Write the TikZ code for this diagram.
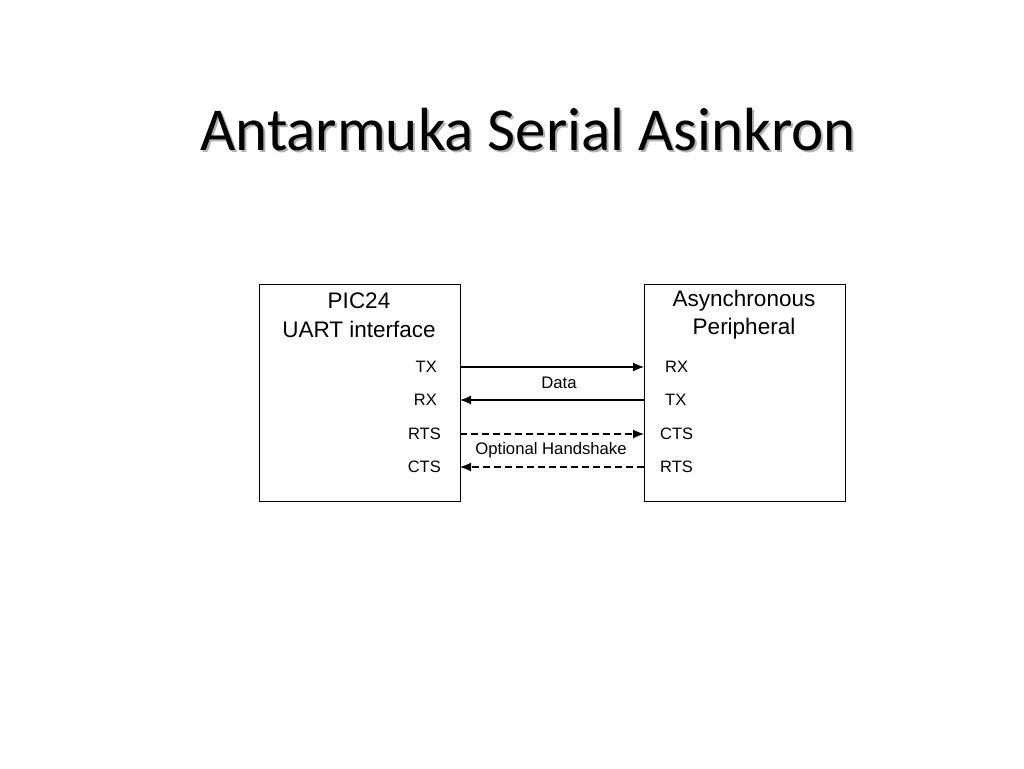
\documentclass[tikz,border=0pt]{standalone}
\usepackage{fontspec}
\setmainfont{Liberation Sans}
\newfontfamily\titlefont{Carlito}
\usetikzlibrary{arrows.meta}
\begin{document}
\begin{tikzpicture}[x=1pt,y=-1pt,
  box/.style={draw,line width=1pt},
  pin/.style={font=\fontsize{16.5}{18}\selectfont,inner sep=0pt},
  big/.style={font=\fontsize{22.5}{24}\selectfont,inner sep=0pt},
  sig/.style={line width=1.2pt,-{Latex[length=11pt,width=9pt]}},
  lbl/.style={font=\fontsize{16.7}{18}\selectfont,inner sep=0pt}]
\useasboundingbox (0,0) rectangle (1024,768);
\node[text=gray!60,font=\titlefont\fontsize{61}{66}\selectfont] at (530,132) {Antarmuka Serial Asinkron};
\node (title) [font=\titlefont\fontsize{61}{66}\selectfont] at (528,130) {Antarmuka Serial Asinkron};
\draw[box] (259,284) rectangle (460,501);
\draw[box] (644,284) rectangle (845,501);
\node[big] at (359,301) {PIC24};
\node[big] at (359,329) {UART interface};
\node[big] at (744,301) {Asynchronous};
\node[big] at (744,329) {Peripheral};
\node[pin,anchor=east] (ltx) at (437,367) {TX};
\node[pin,anchor=east] (lrx) at (437,400) {RX};
\node[pin,anchor=east] (lrts) at (441,434) {RTS};
\node[pin,anchor=east] (lcts) at (441,467) {CTS};
\node[pin,anchor=west] (rrx) at (665,367) {RX};
\node[pin,anchor=west] (rtx) at (665,400) {TX};
\node[pin,anchor=west] (rcts) at (660,434) {CTS};
\node[pin,anchor=west] (rrts) at (660,467) {RTS};
\coordinate (a1) at (460,367); \coordinate (b1) at (644,367);
\coordinate (a2) at (460,400); \coordinate (b2) at (644,400);
\coordinate (a3) at (460,434); \coordinate (b3) at (644,434);
\coordinate (a4) at (460,467); \coordinate (b4) at (644,467);
\draw[sig] (a1) -- (b1);
\draw[sig] (b2) -- (a2);
\draw[sig,dash pattern=on 7pt off 4pt] (a3) -- (b3);
\draw[sig,dash pattern=on 7pt off 4pt] (b4) -- (a4);
\node[lbl] at (559,383) {Data};
\node[lbl] at (551,450) {Optional Handshake};
\end{tikzpicture}
\end{document}
